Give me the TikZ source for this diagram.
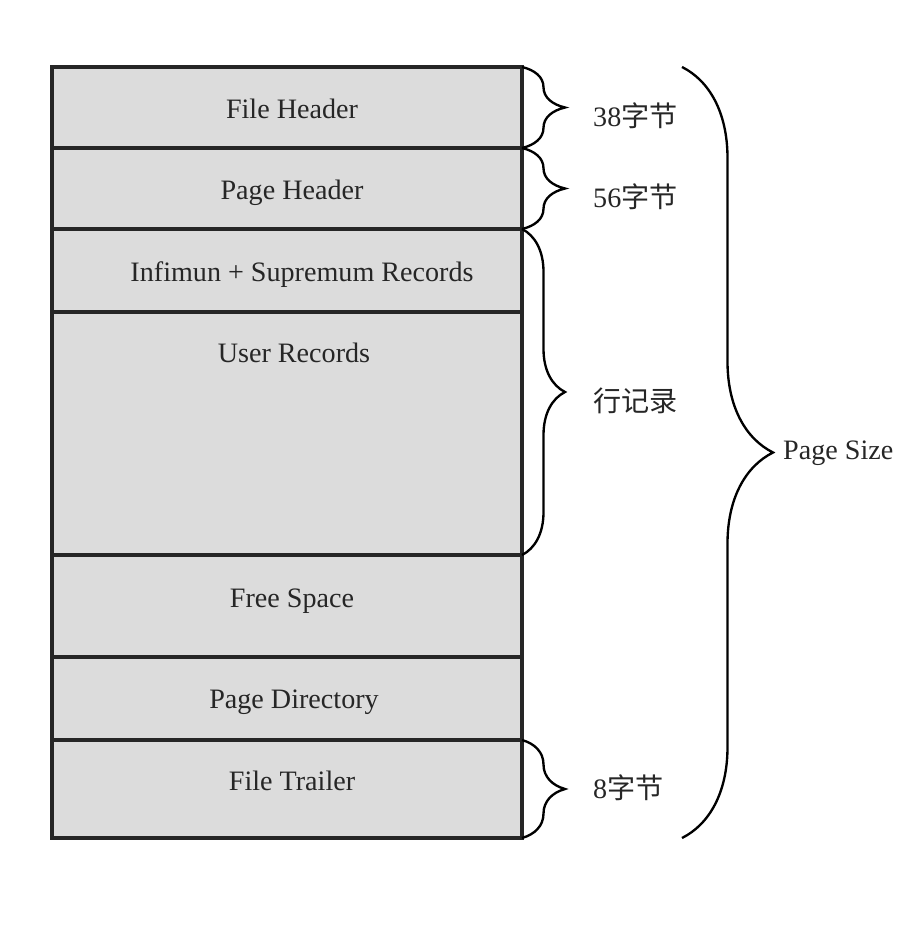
\documentclass[tikz,border=0pt]{standalone}
\usepackage{fontspec}
\setmainfont{Liberation Serif}
\newfontfamily\cjk{Noto Sans CJK SC}
\usetikzlibrary{decorations.pathreplacing}
\definecolor{blockgray}{RGB}{220,220,220}
\tikzset{
  block/.style={draw=black!85,fill=blockgray,line width=3.2pt},
  sbrace/.style={decorate,decoration={brace,amplitude=1.29cm},line width=2pt},
  bbrace/.style={decorate,decoration={brace,amplitude=2.73cm},line width=2pt},
  lbl/.style={anchor=base west}
}
\begin{document}
\begin{tikzpicture}[x=0.03cm,y=-0.03cm,every node/.style={font=\fontsize{24}{28}\selectfont,inner sep=0pt,text=black!85}]
        \useasboundingbox (0,0) rectangle (922,928);
        % row boundaries on the right edge
        \coordinate (r0) at (522,67);
        \coordinate (r1) at (522,148);
        \coordinate (r2) at (522,229);
        \coordinate (r3) at (522,312);
        \coordinate (r4) at (522,555);
        \coordinate (r5) at (522,657);
        \coordinate (r6) at (522,740);
        \coordinate (r7) at (522,838);
        \draw[block] (52,67)  rectangle (r1);
        \draw[block] (52,148) rectangle (r2);
        \draw[block] (52,229) rectangle (r3);
        \draw[block] (52,312) rectangle (r4);
        \draw[block] (52,555) rectangle (r5);
        \draw[block] (52,657) rectangle (r6);
        \draw[block] (52,740) rectangle (r7);
        \node[anchor=base] (fheader)  at (292,119) {File Header};
        \node[anchor=base] (pheader)  at (292,199) {Page Header};
        \node[anchor=base] (infsup)   at (302,281) {Infimun + Supremum Records};
        \node[anchor=base] (urecords) at (294,362) {User Records};
        \node[anchor=base] (fspace)   at (292,607) {Free Space};
        \node[anchor=base] (pdir)     at (294,708) {Page Directory};
        \node[anchor=base] (ftrailer) at (292,790) {File Trailer};
        % braces
        \draw[sbrace] (r0) -- (r1);
        \draw[sbrace] (r1) -- (r2);
        \draw[sbrace] (r2) -- (r4);
        \draw[sbrace] (r6) -- (r7);
        \coordinate (ptop) at (682,67);
        \coordinate (pbot) at (682,838);
        \draw[bbrace] (ptop) -- (pbot);
        \node[lbl] (fhsize) at (593,127) {38{\cjk 字节}};
        \node[lbl] (phsize) at (593,207) {56{\cjk 字节}};
        \node[lbl] (rows)   at (593,411) {\cjk 行记录};
        \node[lbl] (ftsize) at (593,798) {8{\cjk 字节}};
        \node[lbl] (psize)  at (783,459) {Page Size};
\end{tikzpicture}
\end{document}
